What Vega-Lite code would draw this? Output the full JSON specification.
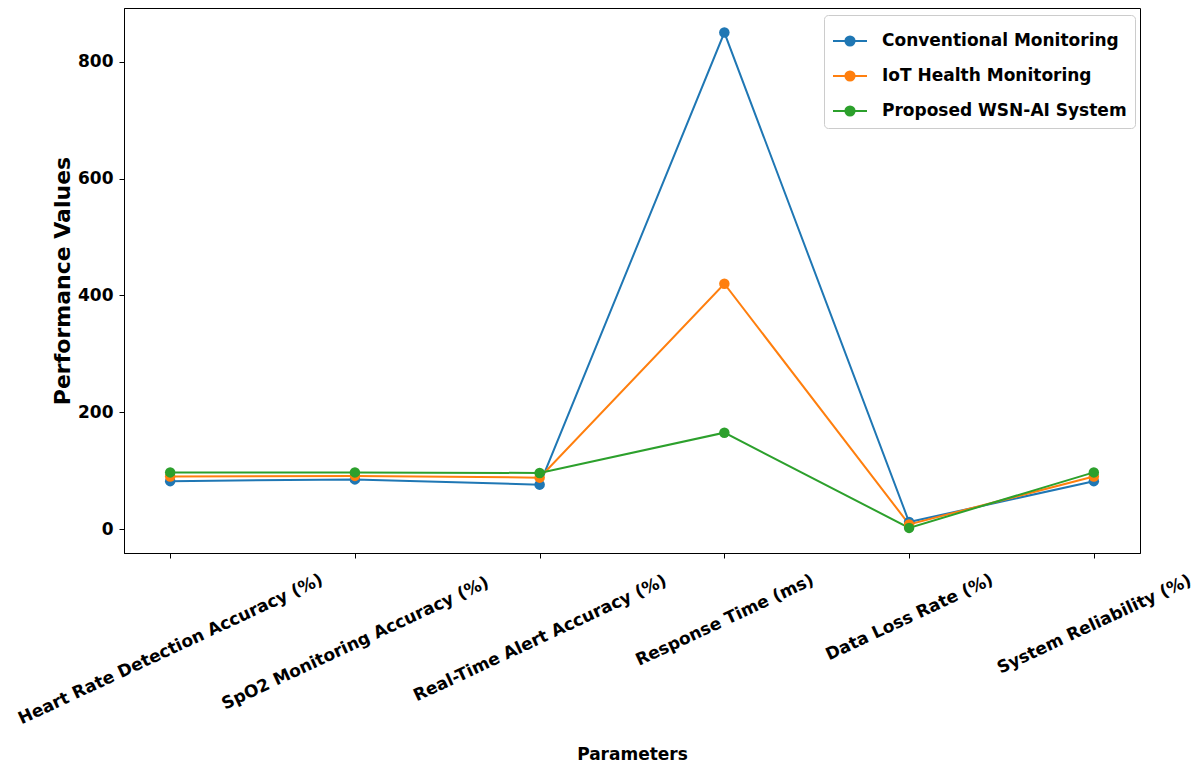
{
  "$schema": "https://vega.github.io/schema/vega-lite/v6.json",
  "width": 1016,
  "height": 545,
  "autosize": {"type": "none"},
  "padding": {"left": 124, "top": 8, "right": 64, "bottom": 218},
  "background": "white",
  "config": {
    "view": {"stroke": "black", "strokeWidth": 1},
    "font": "DejaVu Sans",
    "axis": {
      "domainColor": "black",
      "tickColor": "black",
      "tickSize": 5,
      "labelColor": "black",
      "titleColor": "black",
      "grid": false,
      "labelFont": "DejaVu Sans",
      "labelFontWeight": "bold",
      "labelFontSize": 17,
      "labelLimit": 0,
      "titleFontWeight": "bold"
    },
    "axisX": {
      "labelAngle": -25,
      "labelAlign": "center",
      "labelBaseline": "middle",
      "labelOverlap": false
    }
  },
  "data": {
    "values": [
      {"param": "Heart Rate Detection Accuracy (%)", "system": "Conventional Monitoring", "value": 82},
      {"param": "SpO2 Monitoring Accuracy (%)", "system": "Conventional Monitoring", "value": 85},
      {"param": "Real-Time Alert Accuracy (%)", "system": "Conventional Monitoring", "value": 76},
      {"param": "Response Time (ms)", "system": "Conventional Monitoring", "value": 850},
      {"param": "Data Loss Rate (%)", "system": "Conventional Monitoring", "value": 12},
      {"param": "System Reliability (%)", "system": "Conventional Monitoring", "value": 82},
      {"param": "Heart Rate Detection Accuracy (%)", "system": "IoT Health Monitoring", "value": 90},
      {"param": "SpO2 Monitoring Accuracy (%)", "system": "IoT Health Monitoring", "value": 91},
      {"param": "Real-Time Alert Accuracy (%)", "system": "IoT Health Monitoring", "value": 88},
      {"param": "Response Time (ms)", "system": "IoT Health Monitoring", "value": 420},
      {"param": "Data Loss Rate (%)", "system": "IoT Health Monitoring", "value": 8},
      {"param": "System Reliability (%)", "system": "IoT Health Monitoring", "value": 90},
      {"param": "Heart Rate Detection Accuracy (%)", "system": "Proposed WSN-AI System", "value": 97},
      {"param": "SpO2 Monitoring Accuracy (%)", "system": "Proposed WSN-AI System", "value": 97},
      {"param": "Real-Time Alert Accuracy (%)", "system": "Proposed WSN-AI System", "value": 96},
      {"param": "Response Time (ms)", "system": "Proposed WSN-AI System", "value": 165},
      {"param": "Data Loss Rate (%)", "system": "Proposed WSN-AI System", "value": 2},
      {"param": "System Reliability (%)", "system": "Proposed WSN-AI System", "value": 97}
    ]
  },
  "encoding": {
    "y": {
      "field": "value",
      "type": "quantitative",
      "scale": {"domain": [-41, 892], "nice": false, "zero": false},
      "axis": {
        "title": "Performance Values",
        "titleFont": "DejaVu Sans",
        "titleFontSize": 22,
        "titleX": -62,
        "titleY": 272.5,
        "titleAlign": "center",
        "titleBaseline": "middle",
        "titleAngle": -90,
        "values": [0, 200, 400, 600, 800],
        "labelPadding": 6
      }
    }
  },
  "layer": [
    {
      "mark": {"type": "line", "strokeWidth": 2},
      "encoding": {
        "x": {
          "field": "param", "type": "nominal", "sort": null,
          "scale": {"type": "point", "padding": 0.25},
          "axis": {
            "orient": "bottom",
            "title": "Parameters",
            "titleFont": "DejaVu Sans",
            "titleFontSize": 17,
            "titleY": 193,
            "titleBaseline": "top",
            "labels": false
          }
        },
        "color": {
          "field": "system",
          "type": "nominal",
          "scale": {
            "domain": ["Conventional Monitoring", "IoT Health Monitoring", "Proposed WSN-AI System"],
            "range": ["#1f77b4", "#ff7f0e", "#2ca02c"]
          },
          "legend": {
            "title": null,
            "orient": "none",
            "legendX": 700,
            "legendY": 7,
            "fillColor": "white",
            "strokeColor": "#cccccc",
            "cornerRadius": 4,
            "padding": 8,
            "rowPadding": 8,
            "labelFont": "DejaVu Sans",
            "labelFontWeight": "bold",
            "labelFontSize": 17,
            "labelLimit": 0,
            "labelColor": "black",
            "labelOffset": 14,
            "symbolType": "M-1,0L1,0M-0.27,0A0.27,0.27,0,1,0,0.27,0A0.27,0.27,0,1,0,-0.27,0Z",
            "symbolSize": 1156,
            "symbolStrokeWidth": 2,
            "encode": {
              "symbols": {
                "update": {
                  "fill": {"scale": "color", "field": "value"},
                  "stroke": {"scale": "color", "field": "value"}
                }
              }
            }
          }
        }
      }
    },
    {
      "mark": {"type": "point", "filled": true, "size": 110, "opacity": 1},
      "encoding": {
        "x": {"field": "param", "type": "nominal", "sort": null, "axis": null},
        "color": {"field": "system", "type": "nominal"}
      }
    },
    {
      "mark": {"type": "point", "opacity": 0},
      "encoding": {
        "x": {"field": "param", "type": "nominal", "sort": null,
          "axis": {"orient": "bottom", "title": null, "domain": false, "ticks": false, "tickSize": 0, "labelPadding": 96,
            "labelExpr": "datum.label == 'Heart Rate Detection Accuracy (%)' ? datum.label : ''"}}
      }
    },
    {
      "mark": {"type": "point", "opacity": 0},
      "encoding": {
        "x": {"field": "param", "type": "nominal", "sort": null,
          "axis": {"orient": "bottom", "title": null, "domain": false, "ticks": false, "tickSize": 0, "labelPadding": 90,
            "labelExpr": "datum.label == 'SpO2 Monitoring Accuracy (%)' ? datum.label : ''"}}
      }
    },
    {
      "mark": {"type": "point", "opacity": 0},
      "encoding": {
        "x": {"field": "param", "type": "nominal", "sort": null,
          "axis": {"orient": "bottom", "title": null, "domain": false, "ticks": false, "tickSize": 0, "labelPadding": 85,
            "labelExpr": "datum.label == 'Real-Time Alert Accuracy (%)' ? datum.label : ''"}}
      }
    },
    {
      "mark": {"type": "point", "opacity": 0},
      "encoding": {
        "x": {"field": "param", "type": "nominal", "sort": null,
          "axis": {"orient": "bottom", "title": null, "domain": false, "ticks": false, "tickSize": 0, "labelPadding": 67,
            "labelExpr": "datum.label == 'Response Time (ms)' ? datum.label : ''"}}
      }
    },
    {
      "mark": {"type": "point", "opacity": 0},
      "encoding": {
        "x": {"field": "param", "type": "nominal", "sort": null,
          "axis": {"orient": "bottom", "title": null, "domain": false, "ticks": false, "tickSize": 0, "labelPadding": 64,
            "labelExpr": "datum.label == 'Data Loss Rate (%)' ? datum.label : ''"}}
      }
    },
    {
      "mark": {"type": "point", "opacity": 0},
      "encoding": {
        "x": {"field": "param", "type": "nominal", "sort": null,
          "axis": {"orient": "bottom", "title": null, "domain": false, "ticks": false, "tickSize": 0, "labelPadding": 71,
            "labelExpr": "datum.label == 'System Reliability (%)' ? datum.label : ''"}}
      }
    }
  ],
  "resolve": {"axis": {"x": "independent"}}
}
